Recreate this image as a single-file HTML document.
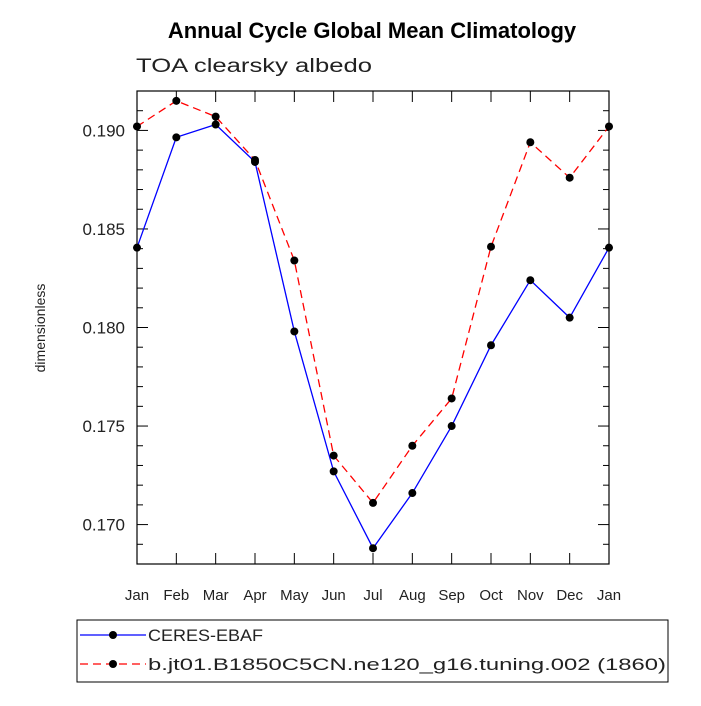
<!DOCTYPE html>
<html><head><meta charset="utf-8"><style>
body{margin:0;background:#fff;}
svg text{font-family:"Liberation Sans",sans-serif;}
</style></head><body>
<svg id="c" width="701" height="701" viewBox="0 0 701 701" xmlns="http://www.w3.org/2000/svg">
<text x="372" y="38" text-anchor="middle" font-size="22" font-weight="bold">Annual Cycle Global Mean Climatology</text>
<text x="136" y="72" font-size="19" fill="#222" textLength="236" lengthAdjust="spacingAndGlyphs">TOA clearsky albedo</text>
<text transform="translate(45,328) rotate(-90)" text-anchor="middle" font-size="14" fill="#222">dimensionless</text>
<g id="axes"></g>
<g id="series"></g>
<rect x="77" y="620" width="591" height="62" fill="none" stroke="#000" stroke-width="1"/>
<g>
<line x1="80" y1="635" x2="146" y2="635" stroke="#00f" stroke-width="1.3"/>
<circle cx="113" cy="635" r="4" fill="#000"/>
<text x="148" y="641" font-size="17" fill="#222" textLength="115" lengthAdjust="spacingAndGlyphs">CERES-EBAF</text>
</g>
<g>
<line x1="80" y1="664" x2="146" y2="664" stroke="#f00" stroke-width="1.3" stroke-dasharray="8,5"/>
<circle cx="113" cy="664" r="4" fill="#000"/>
<text x="148" y="670" font-size="17" fill="#222" textLength="518" lengthAdjust="spacingAndGlyphs">b.jt01.B1850C5CN.ne120_g16.tuning.002 (1860)</text>
</g>
</svg>
<script>
const months=["Jan","Feb","Mar","Apr","May","Jun","Jul","Aug","Sep","Oct","Nov","Dec","Jan"];
const ceres=[0.18405,0.18965,0.1903,0.1884,0.1798,0.1727,0.1688,0.1716,0.1750,0.1791,0.1824,0.1805,0.18405];
const model=[0.1902,0.1915,0.1907,0.1885,0.1834,0.1735,0.1711,0.1740,0.1764,0.1841,0.1894,0.1876,0.1902];
const yTicks=[0.170,0.175,0.180,0.185,0.190];
const yTickLabels=["0.170","0.175","0.180","0.185","0.190"];
const X0=137,X1=609,Y0=91,Y1=564,YMIN=0.168,YMAX=0.192;
const NS="http://www.w3.org/2000/svg";
function xs(i){return X0+(X1-X0)*i/(months.length-1);}
function ys(v){return Y1-(v-YMIN)/(YMAX-YMIN)*(Y1-Y0);}
function mk(t,a,p){const e=document.createElementNS(NS,t);for(const k in a)e.setAttribute(k,a[k]);p.appendChild(e);return e;}
const ax=document.getElementById('axes'),se=document.getElementById('series');
const fr=mk('rect',{x:X0,y:Y0,width:X1-X0,height:Y1-Y0,fill:'none',stroke:'#000','stroke-width':1.2},ax);


for(let v=0.168;v<=0.1920001;v+=0.001){const y=ys(v);const maj=Math.abs(Math.round(v*1000)%5)===0;const L=maj?11:6;
mk('line',{x1:X0,y1:y,x2:X0+L,y2:y,stroke:'#000'},ax);mk('line',{x1:X1,y1:y,x2:X1-L,y2:y,stroke:'#000'},ax);}
yTicks.forEach((v,i)=>{const t=mk('text',{x:X0-12,y:ys(v)+6,'text-anchor':'end','font-size':17,fill:'#222'},ax);t.textContent=yTickLabels[i];

});
months.forEach((m,i)=>{const x=xs(i);mk('line',{x1:x,y1:Y1,x2:x,y2:Y1-11,stroke:'#000'},ax);mk('line',{x1:x,y1:Y0,x2:x,y2:Y0+11,stroke:'#000'},ax);
const t=mk('text',{x:x,y:Y1+36,'text-anchor':'middle','font-size':15,fill:'#222'},ax);t.textContent=m;

});
function series(d,col,dash,name){const p=mk('polyline',{points:d.map((v,i)=>xs(i)+','+ys(v)).join(' '),fill:'none',stroke:col,'stroke-width':1.3},se);
if(dash)p.setAttribute('stroke-dasharray',dash);


d.forEach((v,i)=>{const c=mk('circle',{cx:xs(i),cy:ys(v),r:4,fill:'#000'},se);

});}
series(ceres,'#00f',null,'ceres');
series(model,'#f00','8,5','model');
</script>
</body></html>
